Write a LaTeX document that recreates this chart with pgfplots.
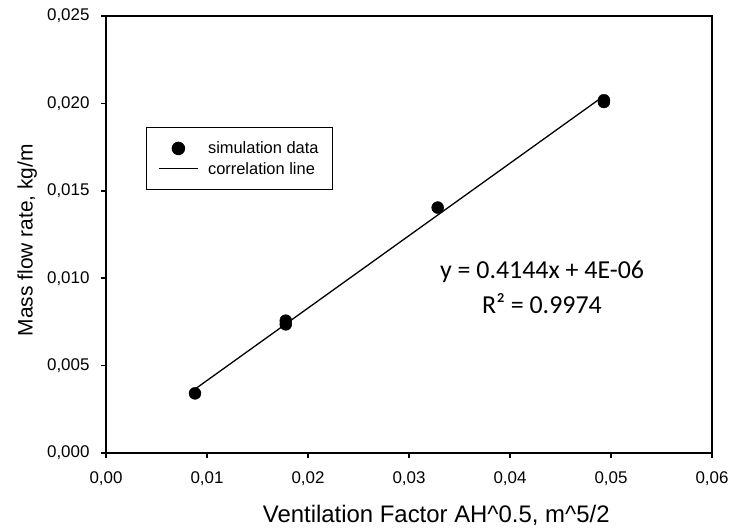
\documentclass[border=0pt]{standalone}
\usepackage{fontspec}
\setmainfont{Liberation Sans}
\newfontfamily\calibri{Carlito}
\usepackage{pgfplots}
\pgfplotsset{compat=1.18}
\pgfplotsset{
	dotleg/.style={legend image code/.code={\draw[##1] plot coordinates {(19bp,0bp)};}},
	lineleg/.style={legend image code/.code={\draw[##1] (0bp,0bp) -- (39bp,0bp);}},
}

\begin{document}
\begin{tikzpicture}
	\path[use as bounding box] (0,0) rectangle (730bp,528bp);
	\begin{axis}[
		at={(106bp,75bp)}, anchor=south west,
		scale only axis, width=606bp, height=437bp,
		xmin=0, xmax=0.06, ymin=0, ymax=0.025,
		xtick={0,0.01,...,0.06}, ytick={0,0.005,...,0.025},
		xtick pos=bottom, ytick pos=left, tick align=outside,
		major tick length=5bp,
		axis line style={line width=1.5bp}, every tick/.style={line width=1.5bp, black},
		/pgf/number format/assume math mode=true,
		x tick label style={yshift=-10bp, /pgf/number format/.cd, use comma, fixed, fixed zerofill, precision=2},
		y tick label style={xshift=-8bp, /pgf/number format/.cd, use comma, fixed, fixed zerofill, precision=3},
		scaled ticks=false,
		tick label style={font=\fontsize{17}{20}\selectfont},
		xlabel={Ventilation Factor AH\textasciicircum0.5, m\textasciicircum5/2},
		ylabel={Mass flow rate, kg/m},
		xlabel style={font=\fontsize{24}{28}\selectfont, at={(axis description cs:0.545,-0.142)}, anchor=center},
		ylabel style={font=\fontsize{21}{24}\selectfont, at={(axis description cs:-0.13,0.487)}, anchor=center},
		legend cell align=left,
		legend style={at={(axis description cs:0.066,0.746)}, anchor=north west, draw=black, line width=1.5bp,
			inner xsep=12bp, inner ysep=12bp, row sep=3bp,
			font=\fontsize{16.5}{18}\selectfont,
			/tikz/every odd column/.style={column sep=7bp}},
	]
		\addplot[only marks, mark=*, mark size=6bp, black, dotleg]
			coordinates {(0.00881,0.00341) (0.0178,0.00757) (0.0178,0.00736) (0.03284,0.01404) (0.0493,0.02018) (0.0493,0.02008)};
		\addlegendentry{simulation data}
		\addplot[black, line width=1.3bp, lineleg]
			coordinates {(0.0088,0.00365) (0.0493,0.02043)};
		\addlegendentry{correlation line}
		\node[font=\calibri\fontsize{26}{30}\selectfont] at (axis cs:0.04317,0.01034) {y = 0.4144x + 4E-06};
		\node[font=\calibri\fontsize{26}{30}\selectfont] at (axis cs:0.04317,0.00857) {R² = 0.9974};
	\end{axis}
\end{tikzpicture}
\end{document}
